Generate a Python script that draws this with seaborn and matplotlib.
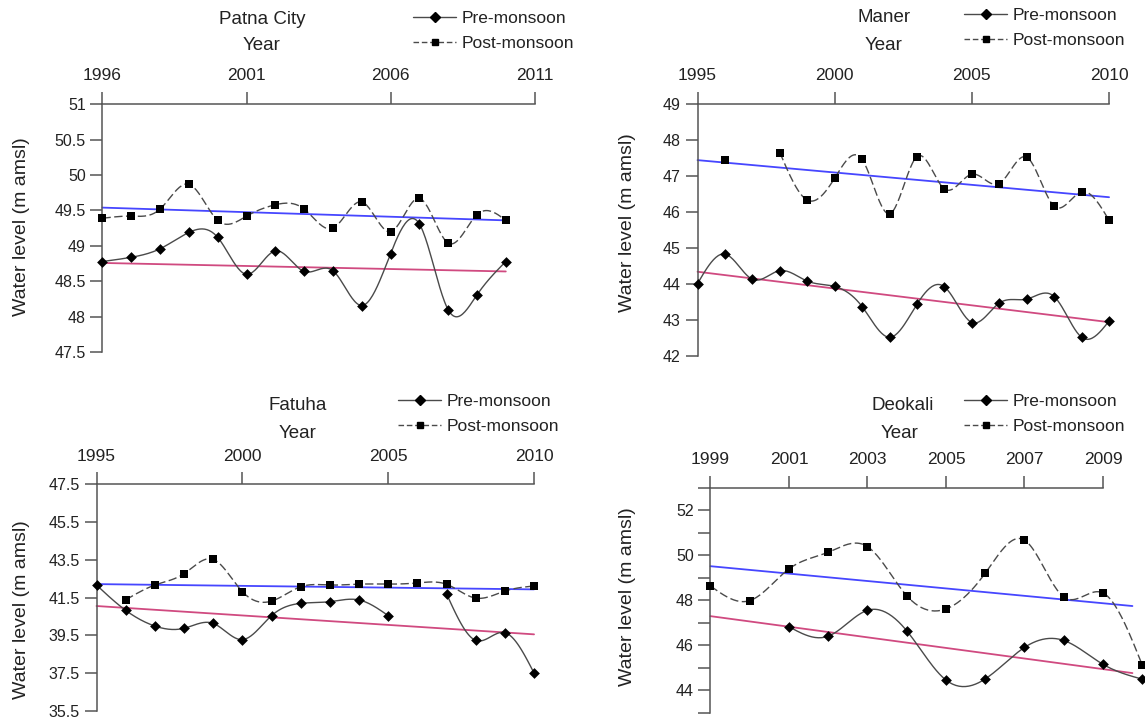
import numpy as np
import matplotlib
matplotlib.use("Agg")
import matplotlib.pyplot as plt
import seaborn as sns
from matplotlib.lines import Line2D

sns.set_style("ticks")
plt.rcParams['font.family'] = ['Liberation Sans', 'DejaVu Sans']

nan = np.nan

# ---------------- data ----------------
patna_years = [1996, 1997, 1998, 1999, 2000, 2001, 2002, 2003, 2004, 2005, 2006, 2007, 2008, 2009, 2010]
patna_pre = [48.78, 48.84, 48.96, 49.19, 49.12, 48.60, 48.93, 48.64, 48.65, 48.16, 48.89, 49.31, 48.10, 48.31, 48.78]
patna_post = [49.39, 49.42, 49.52, 49.87, 49.36, 49.42, 49.58, 49.52, 49.25, 49.62, 49.20, 49.67, 49.04, 49.44, 49.36]
patna_trend_x = [1996, 2010]
patna_trend_pre = [48.76, 48.64]
patna_trend_post = [49.54, 49.36]

maner_years = [1995, 1996, 1997, 1998, 1999, 2000, 2001, 2002, 2003, 2004, 2005, 2006, 2007, 2008, 2009, 2010]
maner_pre = [44.01, 44.83, 44.13, 44.37, 44.08, 43.93, 43.37, 42.52, 43.44, 43.92, 42.93, 43.47, 43.58, 43.65, 42.52, 42.97]
maner_post = [nan, 47.44, nan, 47.65, 46.33, 46.94, 47.46, 45.95, 47.54, 46.64, 47.05, 46.79, 47.52, 46.16, 46.56, 45.77]
maner_trend_x = [1995, 2010]
maner_trend_pre = [44.34, 42.94]
maner_trend_post = [47.44, 46.41]

fatuha_years = [1995, 1996, 1997, 1998, 1999, 2000, 2001, 2002, 2003, 2004, 2005, 2006, 2007, 2008, 2009, 2010]
fatuha_pre = [42.17, 40.83, 40.00, 39.88, 40.14, 39.28, 40.55, 41.20, 41.29, 41.38, 40.55, nan, 41.71, 39.24, 39.65, 37.51]
fatuha_post = [nan, 41.39, 42.17, 42.77, 43.53, 41.82, 41.32, 42.08, 42.17, 42.22, 42.22, 42.28, 42.21, 41.48, 41.85, 42.12]
fatuha_trend_x = [1995, 2010]
fatuha_trend_pre = [41.06, 39.56]
fatuha_trend_post = [42.22, 41.94]

deokali_years = [1999, 2000, 2001, 2002, 2003, 2004, 2005, 2006, 2007, 2008, 2009, 2010]
deokali_pre = [nan, nan, 46.82, 46.40, 47.55, 46.64, 44.45, 44.50, 45.90, 46.21, 45.15, 44.49]
deokali_post = [48.63, 47.98, 49.39, 50.13, 50.38, 48.20, 47.61, 49.20, 50.67, 48.14, 48.32, 45.12]
deokali_trend_x = [1999, 2009.75]
deokali_trend_pre = [47.29, 44.76]
deokali_trend_post = [49.51, 47.74]

panels = [
    dict(name="Patna City", years=patna_years, pre=patna_pre, post=patna_post,
         tx=patna_trend_x, tpre=patna_trend_pre, tpost=patna_trend_post,
         xlim=(1996, 2011), xticks=[1996, 2001, 2006, 2011],
         ylim=(47.5, 51), yticks=list(np.arange(47.5, 51.01, 0.5)), ylab_every=1,
         rect=[0.0895, 0.5093, 0.3774, 0.3458],
         title_xy=(262, 20), year_xy=(262, 46), leg_xy=(413, 11), ylab_xy=(22, 227)),
    dict(name="Maner", years=maner_years, pre=maner_pre, post=maner_post,
         tx=maner_trend_x, tpre=maner_trend_pre, tpost=maner_trend_post,
         xlim=(1995, 2010), xticks=[1995, 2000, 2005, 2010],
         ylim=(42, 49), yticks=list(range(42, 50)), ylab_every=1,
         rect=[0.6092, 0.5042, 0.3594, 0.3510],
         title_xy=(884, 17), year_xy=(884, 45), leg_xy=(964, 8), ylab_xy=(627, 223)),
    dict(name="Fatuha", years=fatuha_years, pre=fatuha_pre, post=fatuha_post,
         tx=fatuha_trend_x, tpre=fatuha_trend_pre, tpost=fatuha_trend_post,
         xlim=(1995, 2010), xticks=[1995, 2000, 2005, 2010],
         ylim=(35.5, 47.5), yticks=list(np.arange(35.5, 47.51, 2)), ylab_every=1,
         rect=[0.0843, 0.0097, 0.3821, 0.3157],
         title_xy=(298, 405), year_xy=(298, 433), leg_xy=(398, 394), ylab_xy=(22, 610)),
    dict(name="Deokali", years=deokali_years, pre=deokali_pre, post=deokali_post,
         tx=deokali_trend_x, tpre=deokali_trend_pre, tpost=deokali_trend_post,
         xlim=(1999, 2009), xticks=[1999, 2001, 2003, 2005, 2007, 2009],
         ylim=(43, 53), yticks=list(range(43, 54)), ylab_every=2,
         rect=[0.6205, 0.0074, 0.3428, 0.3134],
         title_xy=(903, 406), year_xy=(900, 433), leg_xy=(964, 394), ylab_xy=(627, 597)),
]

W, H = 1145, 718
TXT = "#222222"
AXC = "#555555"
CURVE = "#4a4a4a"
BLUE = "#4646ff"
PINK = "#d04a80"


def spline_segment(x, y, per=24):
    x = np.asarray(x, float)
    y = np.asarray(y, float)
    n = len(x)
    if n < 3:
        return x, y
    h = np.diff(x)
    A = np.zeros((n, n))
    r = np.zeros(n)
    A[0, 0] = 1.0
    A[-1, -1] = 1.0
    for i in range(1, n - 1):
        A[i, i - 1] = h[i - 1]
        A[i, i] = 2 * (h[i - 1] + h[i])
        A[i, i + 1] = h[i]
        r[i] = 6 * ((y[i + 1] - y[i]) / h[i] - (y[i] - y[i - 1]) / h[i - 1])
    M = np.linalg.solve(A, r)
    xs, ys = [], []
    for i in range(n - 1):
        t = np.linspace(x[i], x[i + 1], per, endpoint=(i == n - 2))
        hi = h[i]
        s = (M[i] * (x[i + 1] - t) ** 3 / (6 * hi) + M[i + 1] * (t - x[i]) ** 3 / (6 * hi)
             + (y[i] / hi - M[i] * hi / 6) * (x[i + 1] - t)
             + (y[i + 1] / hi - M[i + 1] * hi / 6) * (t - x[i]))
        xs.append(t)
        ys.append(s)
    return np.concatenate(xs), np.concatenate(ys)


def segments(x, y):
    x = np.asarray(x, float)
    y = np.asarray(y, float)
    ok = ~np.isnan(y)
    segs, cur = [], []
    for xi, yi, oki in zip(x, y, ok):
        if oki:
            cur.append((xi, yi))
        else:
            if cur:
                segs.append(cur)
            cur = []
    if cur:
        segs.append(cur)
    return segs


fig = plt.figure(figsize=(W / 100, H / 100), dpi=100)

for p in panels:
    ax = fig.add_axes(p["rect"])
    ax.set_facecolor("none")
    # smooth curves
    for series, dash in ((p["pre"], None), (p["post"], (6, 2.5))):
        for seg in segments(p["years"], series):
            sx, sy = zip(*seg)
            cx, cy = spline_segment(sx, sy)
            ln, = ax.plot(cx, cy, color=CURVE, lw=1.0, clip_on=False, zorder=3)
            if dash is not None:
                ln.set_dashes(dash)
    # trend lines
    sns.lineplot(x=p["tx"], y=p["tpost"], ax=ax, color=BLUE, lw=1.3, clip_on=False, zorder=2)
    sns.lineplot(x=p["tx"], y=p["tpre"], ax=ax, color=PINK, lw=1.3, clip_on=False, zorder=2)
    # markers
    yrs = np.asarray(p["years"], float)
    pre = np.asarray(p["pre"], float)
    post = np.asarray(p["post"], float)
    m = ~np.isnan(pre)
    sns.scatterplot(x=yrs[m], y=pre[m], ax=ax, marker="D", s=30, color="black",
                    linewidth=0, zorder=5, clip_on=False)
    m = ~np.isnan(post)
    sns.scatterplot(x=yrs[m], y=post[m], ax=ax, marker="s", s=32, color="black",
                    linewidth=0, zorder=5, clip_on=False)

    ax.set_xlim(*p["xlim"])
    ax.set_ylim(*p["ylim"])
    ax.xaxis.tick_top()
    ax.set_xticks(p["xticks"])
    ax.set_xticklabels([str(t) for t in p["xticks"]])
    ax.set_yticks(p["yticks"])
    labs = []
    for i, t in enumerate(p["yticks"]):
        if p["ylab_every"] == 2:
            labs.append("%g" % t if int(round(t)) % 2 == 0 else "")
        else:
            labs.append("%g" % t)
    ax.set_yticklabels(labs)
    for s in ("right", "bottom"):
        ax.spines[s].set_visible(False)
    for s in ("left", "top"):
        ax.spines[s].set_color(AXC)
        ax.spines[s].set_linewidth(1.1)
    ax.tick_params(axis="x", direction="out", length=9, width=1.1, color=AXC,
                   labelsize=12.5, labelcolor=TXT, pad=6, top=True, bottom=False)
    ax.tick_params(axis="y", direction="out", length=9, width=1.1, color=AXC,
                   labelsize=11.5, labelcolor=TXT, pad=3)
    ax.set_xlabel("")
    ax.set_ylabel("")

    # text
    tx, ty = p["title_xy"]
    fig.text(tx / W, 1 - ty / H, p["name"], ha="center", va="center", fontsize=13.5, color=TXT)
    yx, yy = p["year_xy"]
    fig.text(yx / W, 1 - yy / H, "Year", ha="center", va="center", fontsize=13.5, color=TXT)
    lx, ly = p["ylab_xy"]
    fig.text(lx / W, 1 - ly / H, "Water level (m amsl)", ha="center", va="center",
             rotation=90, fontsize=14, color=TXT)

    handles = [
        Line2D([0], [0], color=CURVE, lw=1.0, marker="D", markersize=5,
               markerfacecolor="black", markeredgecolor="black"),
        Line2D([0], [0], color=CURVE, lw=1.0, ls=(0, (4, 2)), marker="s", markersize=5,
               markerfacecolor="black", markeredgecolor="black"),
    ]
    gx, gy = p["leg_xy"]
    fig.legend(handles, ["Pre-monsoon", "Post-monsoon"], loc="upper left",
               bbox_to_anchor=(gx / W, 1 - gy / H), frameon=False, fontsize=12.5,
               handlelength=2.5, handletextpad=0.3, labelspacing=0.55,
               borderpad=0, borderaxespad=0, labelcolor=TXT)

fig.savefig("out.png", dpi=100)
